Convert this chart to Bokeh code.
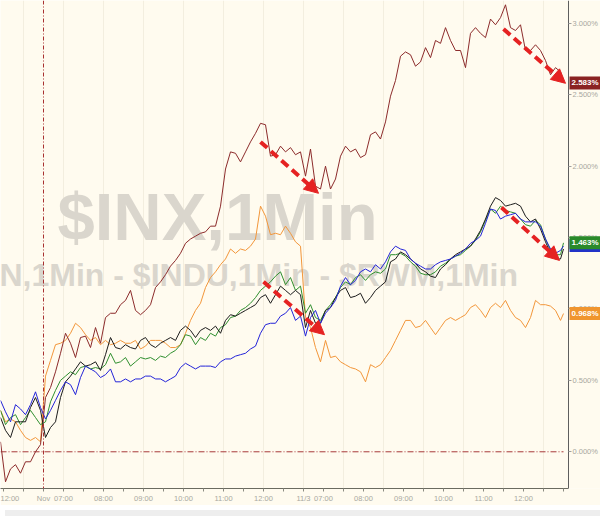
import numpy as np
from bokeh.plotting import figure
from bokeh.models import Range1d, FixedTicker, Span, Label, Arrow, NormalHead, Div, PrintfTickFormatter
from bokeh.layouts import column
from bokeh.embed import file_html
from bokeh.resources import INLINE
from bokeh.core.properties import value

# trading-minute index (0 = day-1 open), sampled every 7.5 minutes
minutes = [float(v) for v in np.arange(-64.5, 776, 7.5)] + [780.0]

maroon = [0.07, -0.21, -0.12, -0.09, -0.15, -0.07, -0.07, 0.00, 0.05, 0.38,
          0.45, 0.56, 0.69, 0.83, 0.76, 0.66, 0.80, 0.81, 0.73, 0.87,
          0.76, 0.94, 0.97, 0.97, 1.03, 1.06, 1.13, 0.99, 0.96, 0.99,
          1.03, 1.15, 1.19, 1.24, 1.30, 1.34, 1.39, 1.46, 1.49, 1.51,
          1.53, 1.54, 1.58, 1.58, 1.72, 1.98, 2.10, 2.09, 2.03, 2.10,
          2.17, 2.23, 2.30, 2.29, 2.07, 2.08, 2.14, 2.10, 2.13, 2.08,
          2.10, 1.93, 2.12, 1.86, 1.84, 2.00, 1.84, 1.91, 2.07, 2.14,
          2.10, 2.12, 2.06, 2.08, 2.22, 2.24, 2.19, 2.31, 2.49, 2.60,
          2.77, 2.80, 2.78, 2.70, 2.73, 2.83, 2.76, 2.88, 2.86, 2.97,
          2.88, 2.81, 2.81, 2.69, 2.93, 2.97, 2.93, 2.90, 3.03, 2.99,
          3.04, 3.13, 2.97, 2.95, 2.99, 2.81, 2.81, 2.85, 2.81, 2.74,
          2.64, 2.69, 2.66, 2.583]

orange = [0.29, 0.21, 0.23, 0.21, 0.15, 0.10, 0.08, 0.10, 0.07, 0.53,
          0.64, 0.75, 0.76, 0.78, 0.83, 0.90, 0.87, 0.82, 0.78, 0.80,
          0.75, 0.78, 0.75, 0.76, 0.78, 0.76, 0.76, 0.78, 0.72, 0.74,
          0.78, 0.78, 0.78, 0.76, 0.73, 0.73, 0.75, 0.83, 0.92, 0.99,
          1.04, 1.15, 1.22, 1.26, 1.31, 1.35, 1.42, 1.39, 1.42, 1.41,
          1.44, 1.49, 1.72, 1.65, 1.52, 1.53, 1.52, 1.58, 1.53, 1.47,
          1.44, 0.94, 0.87, 0.73, 0.63, 0.78, 0.66, 0.67, 0.63, 0.61,
          0.59, 0.58, 0.56, 0.49, 0.61, 0.59, 0.61, 0.66, 0.71, 0.78,
          0.85, 0.92, 0.92, 0.87, 0.88, 0.92, 0.87, 0.82, 0.87, 0.92,
          0.94, 0.92, 0.94, 0.96, 1.01, 1.03, 0.99, 0.94, 1.01, 1.04,
          1.01, 1.06, 0.99, 0.94, 0.92, 0.87, 0.94, 1.06, 1.03, 1.03,
          1.02, 0.99, 0.92, 0.968]

green = [0.29, 0.19, 0.24, 0.26, 0.19, 0.24, 0.29, 0.24, 0.19, 0.21,
         0.35, 0.43, 0.50, 0.53, 0.56, 0.54, 0.59, 0.60, 0.58, 0.59,
         0.58, 0.61, 0.69, 0.62, 0.63, 0.66, 0.60, 0.63, 0.66, 0.65,
         0.66, 0.64, 0.67, 0.66, 0.69, 0.71, 0.75, 0.82, 0.81, 0.75,
         0.80, 0.78, 0.83, 0.81, 0.87, 0.89, 0.94, 0.95, 0.99, 1.01,
         1.04, 1.08, 1.13, 1.16, 1.19, 1.23, 1.26, 1.17, 1.22, 1.13,
         1.16, 0.97, 1.03, 0.94, 0.92, 0.99, 1.03, 1.08, 1.15, 1.19,
         1.17, 1.22, 1.24, 1.20, 1.24, 1.26, 1.25, 1.28, 1.38, 1.38,
         1.39, 1.37, 1.33, 1.30, 1.25, 1.24, 1.24, 1.26, 1.30, 1.32,
         1.35, 1.37, 1.38, 1.41, 1.44, 1.48, 1.54, 1.62, 1.70, 1.67,
         1.72, 1.69, 1.68, 1.67, 1.63, 1.59, 1.58, 1.62, 1.59, 1.49,
         1.41, 1.38, 1.38, 1.463]

black = [0.24, 0.15, 0.10, 0.21, 0.21, 0.21, 0.31, 0.38, 0.29, 0.10,
         0.17, 0.21, 0.38, 0.49, 0.53, 0.58, 0.63, 0.60, 0.61, 0.63,
         0.57, 0.68, 0.80, 0.73, 0.72, 0.75, 0.73, 0.72, 0.78, 0.80,
         0.75, 0.73, 0.76, 0.78, 0.80, 0.78, 0.85, 0.88, 0.85, 0.80,
         0.85, 0.87, 0.85, 0.88, 0.83, 0.92, 0.96, 0.95, 0.97, 0.99,
         1.01, 1.03, 1.08, 1.10, 1.04, 1.10, 1.16, 1.13, 1.10, 1.13,
         1.10, 0.87, 0.99, 0.90, 0.90, 0.99, 1.01, 1.08, 1.13, 1.15,
         1.08, 1.09, 1.11, 1.04, 1.08, 1.13, 1.16, 1.19, 1.33, 1.35,
         1.40, 1.38, 1.35, 1.32, 1.28, 1.26, 1.23, 1.22, 1.28, 1.31,
         1.35, 1.38, 1.40, 1.42, 1.44, 1.49, 1.55, 1.63, 1.72, 1.78,
         1.76, 1.72, 1.73, 1.74, 1.72, 1.65, 1.61, 1.63, 1.56, 1.47,
         1.39, 1.35, 1.35, 1.42]

blue = [0.36, 0.28, 0.21, 0.33, 0.30, 0.26, 0.33, 0.42, 0.31, 0.23,
        0.29, 0.36, 0.43, 0.49, 0.47, 0.40, 0.52, 0.60, 0.58, 0.56,
        0.52, 0.54, 0.58, 0.49, 0.49, 0.51, 0.49, 0.51, 0.51, 0.53,
        0.53, 0.51, 0.51, 0.49, 0.51, 0.53, 0.59, 0.62, 0.60, 0.58,
        0.60, 0.60, 0.60, 0.59, 0.63, 0.65, 0.65, 0.67, 0.68, 0.69,
        0.72, 0.74, 0.83, 0.89, 0.90, 0.90, 0.95, 0.97, 1.01, 0.92,
        0.95, 0.81, 0.94, 0.99, 0.90, 0.97, 1.01, 1.06, 1.16, 1.22,
        1.17, 1.20, 1.26, 1.28, 1.26, 1.31, 1.28, 1.33, 1.40, 1.44,
        1.42, 1.41, 1.35, 1.32, 1.30, 1.28, 1.28, 1.31, 1.33, 1.34,
        1.35, 1.37, 1.39, 1.42, 1.46, 1.48, 1.51, 1.60, 1.70, 1.69,
        1.63, 1.65, 1.66, 1.67, 1.63, 1.61, 1.61, 1.61, 1.58, 1.49,
        1.42, 1.39, 1.41, 1.44]

x_ticks = list(range(-60, 781, 30))
x_tick_labels = {-60: "12:00", 0: "Nov", 30: "07:00", 90: "08:00", 150: "09:00",
                 210: "10:00", 270: "11:00", 330: "12:00", 390: "11/3", 420: "07:00",
                 480: "08:00", 540: "09:00", 600: "10:00", 660: "11:00", 720: "12:00"}
y_ticks = [0.0, 0.5, 1.0, 1.5, 2.0, 2.5, 3.0]
grid_ticks = list(range(-30, 781, 60))

X_START, X_AXIS, X_END = -64.5, 787.5, 835.5   # data span, right-axis position, canvas edge
Y_START, Y_END = -0.257, 3.16

# last-value tags: (value, text, colour)
tags = [(2.583, "2.583%", "#8A2222"),
        (1.445, "1.445%", "#2233C8"),
        (1.463, "1.463%", "#2A8A2A"),
        (0.968, "0.968%", "#F0952E")]

# red trend arrows (start minute, start %, end minute, end %)
arrows = [(325.5, 2.17, 412.5, 1.81),
          (330.0, 1.19, 421.5, 0.82),
          (687.0, 1.71, 774.0, 1.34),
          (690.0, 2.96, 783.0, 2.58)]

watermarks = [(261.0, 1.646, "$INX,1Min", "center", "67px"),
              (-66.0, 1.240, "N,1Min - $INDU,1Min - $RWM,1Min", "left", "32px")]

BG = "#FFFBEF"
RED = "#E52222"
FONT = "Liberation Sans"

p = figure(width=600, height=505, x_range=Range1d(X_START, X_END), y_range=Range1d(Y_START, Y_END),
           y_axis_location="right", output_backend="svg", toolbar_location=None,
           min_border_left=0, min_border_top=0, min_border_right=0, min_border_bottom=13,
           background_fill_color=BG, border_fill_color=BG, outline_line_color=None)

for wx, wy, wt, wa, ws in watermarks:
    p.text(x=[wx], y=[wy], text=[wt], text_font=value(FONT), text_font_style="bold",
           text_font_size=ws, text_color="#DAD6CD", text_align=wa, text_baseline="alphabetic")

p.segment(x0=[X_START], y0=[0.0], x1=[minutes[-1]], y1=[0.0],
          line_color="#A83A3A", line_dash="6 2 1 2", line_width=1)
p.add_layout(Span(location=0, dimension="height", line_color="#A83030", line_dash="4 2 1 2", line_width=1))

for ys, col in [(orange, "#F2963A"), (maroon, "#8C2B2B"), (green, "#2F8F2F"),
                (black, "#1C1C1C"), (blue, "#2424D8")]:
    p.line(minutes, ys, line_color=col, line_width=1)

for x0, y0, x1, y1 in arrows:
    p.add_layout(Arrow(end=NormalHead(size=14, fill_color=RED, line_color=RED),
                       x_start=x0, y_start=y0, x_end=x1, y_end=y1,
                       line_color=RED, line_width=4, line_dash="9 5"))

xa = p.xaxis[0]
xa.ticker = FixedTicker(ticks=x_ticks)
xa.major_label_overrides = {t: x_tick_labels.get(t, "") for t in x_ticks}
xa.bounds = (X_START, X_AXIS)
xa.axis_line_color = "#6B6B60"
xa.major_tick_out = 3
xa.major_tick_in = 0
xa.minor_tick_out = 0
xa.minor_tick_in = 0
xa.major_tick_line_color = "#8A8A80"
xa.major_label_text_font = FONT
xa.major_label_text_font_size = "7.5px"
xa.major_label_text_color = "#A8A8A0"
xa.major_label_standoff = 2

ya = p.yaxis[0]
ya.fixed_location = X_AXIS
ya.ticker = FixedTicker(ticks=y_ticks)
ya.formatter = PrintfTickFormatter(format="%.3f%%")
ya.axis_line_color = "#5E5E5E"
ya.major_tick_out = 3
ya.major_tick_in = 0
ya.minor_tick_out = 0
ya.minor_tick_in = 0
ya.major_tick_line_color = "#A0A0A0"
ya.major_label_text_font = FONT
ya.major_label_text_font_size = "7.5px"
ya.major_label_text_color = "#A8A8A0"
ya.major_label_standoff = 1

p.ygrid.visible = False
p.xgrid.ticker = FixedTicker(ticks=grid_ticks)
p.xgrid.grid_line_color = "#F3EEDF"

for v, t, c in tags:
    p.add_layout(Label(x=X_AXIS, y=v, x_offset=1, text=t, text_baseline="middle", text_align="left",
                       background_fill_color=c, text_color="white", text_font=FONT,
                       text_font_size="8px", text_font_style="bold", padding=2))

strip = Div(width=600, height=11, styles={"background-color": "#EEEEEE"})

open("out.html", "w").write(file_html(column(p, strip), INLINE))
